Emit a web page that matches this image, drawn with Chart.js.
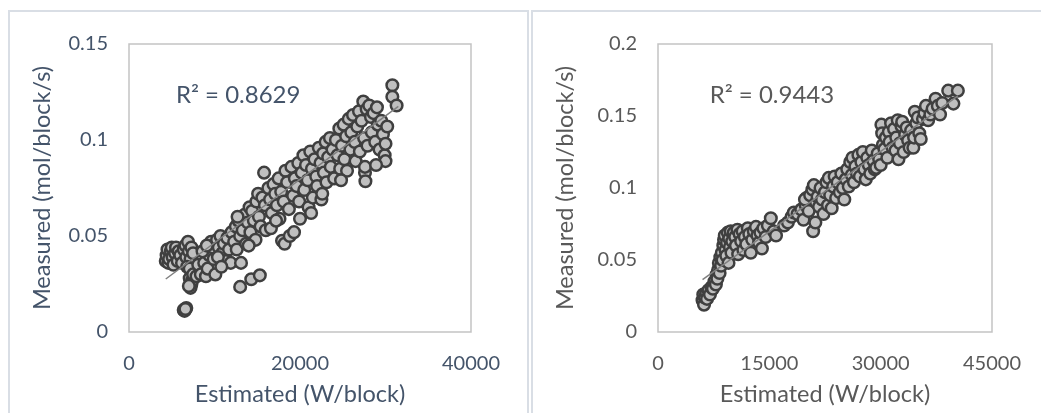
<!DOCTYPE html>
<html><head><meta charset="utf-8">
<script src="https://cdn.jsdelivr.net/npm/chart.js@4.4.1/dist/chart.umd.min.js"></script>
<style>
html,body{margin:0;padding:0;background:#fff;width:1041px;height:413px;overflow:hidden;position:relative;}
.vl{position:absolute;background:#D9DEE5;}
canvas{position:absolute;}
</style></head><body>
<div class="vl" style="left:8px;top:10px;width:1.5px;height:403px"></div>
<div class="vl" style="left:8px;top:10px;width:520px;height:1.5px"></div>
<div class="vl" style="left:527px;top:10px;width:1.5px;height:403px"></div>
<div class="vl" style="left:531px;top:10px;width:1.5px;height:403px"></div>
<div class="vl" style="left:531px;top:10px;width:510px;height:1.5px"></div>
<canvas id="c1" width="511" height="402" style="left:9px;top:11px"></canvas>
<canvas id="c2" width="509" height="402" style="left:532px;top:11px"></canvas>
<script>
// ---------- Panel 1 data ----------
const leftPoints = [
[4300,0.037],[4400,0.040],[4500,0.043],[4600,0.036],[4700,0.038],[4900,0.042],[5000,0.044],[5100,0.039],[5200,0.035],[5400,0.041],
[5500,0.044],[5700,0.037],[5800,0.042],[6000,0.040],[6200,0.036],[6400,0.043],[6600,0.045],[6700,0.039],[6900,0.047],[7000,0.042],
[7200,0.038],[7300,0.044],[7500,0.041],[6800,0.034],[7100,0.033],[7100,0.028],[7300,0.025],[7200,0.023],[7400,0.027],[7500,0.030],
[7900,0.029],[7000,0.024],[6400,0.0115],[6500,0.0110],[6700,0.0125],[6600,0.012],
[8100,0.035],[8400,0.030],[8800,0.036],[9000,0.029],[9200,0.033],[9400,0.040],[9600,0.047],[9800,0.044],[9900,0.038],[10100,0.030],
[10300,0.048],[10500,0.044],[10700,0.050],[10900,0.041],[11100,0.046],[11300,0.037],[11500,0.049],[11700,0.043],[11900,0.036],[12000,0.052],
[8600,0.042],[9100,0.045],[10400,0.039],[10800,0.034],
[12300,0.047],[12500,0.055],[12600,0.043],[12800,0.058],[13000,0.050],[13100,0.036],[13300,0.053],[13500,0.061],[13700,0.046],[13900,0.057],
[14100,0.065],[14200,0.052],[14400,0.063],[14600,0.058],[14800,0.048],[14900,0.068],[15100,0.072],[15200,0.060],[15400,0.055],[15600,0.070],
[15800,0.083],[15900,0.066],[16000,0.053],[13000,0.0235],[14300,0.0275],[15300,0.0295],[12700,0.060],[14000,0.045],
[16300,0.075],[16500,0.069],[16700,0.062],[16900,0.077],[17100,0.072],[17300,0.066],[17500,0.080],[17600,0.059],[17800,0.073],[17900,0.0475],
[18100,0.068],[18200,0.046],[18300,0.084],[18500,0.078],[18700,0.064],[18800,0.050],[19000,0.086],[19200,0.071],[19300,0.052],[19400,0.080],
[19600,0.076],[19800,0.088],[19900,0.068],[20000,0.059],[16600,0.054],[17200,0.058],
[20200,0.083],[20400,0.092],[20500,0.074],[20700,0.087],[20900,0.079],[21000,0.065],[21200,0.094],[21400,0.085],[21500,0.070],[21700,0.090],
[21900,0.081],[22000,0.076],[22200,0.096],[22400,0.088],[22500,0.069],[22700,0.093],[22800,0.083],[23000,0.099],[23100,0.078],[23300,0.091],
[23500,0.101],[23600,0.086],[23800,0.095],[24000,0.080],[21300,0.062],[22600,0.072],
[24200,0.100],[24400,0.092],[24600,0.106],[24700,0.085],[24900,0.097],[25100,0.108],[25200,0.090],[25400,0.102],[25500,0.084],[25700,0.111],
[25900,0.095],[26000,0.104],[26200,0.113],[26400,0.099],[26500,0.089],[26700,0.107],[26900,0.115],[27000,0.094],[27200,0.110],[27400,0.120],
[27500,0.101],[27600,0.083],[27650,0.0785],[27600,0.086],[27800,0.116],[27900,0.097],[24800,0.079],
[28100,0.118],[28300,0.112],[28400,0.104],[28600,0.114],[28800,0.099],[29000,0.117],[29100,0.108],[29300,0.095],[29500,0.110],[29700,0.103],
[29900,0.092],[30000,0.098],[30200,0.107],[30000,0.089],[30800,0.1285],[30800,0.1225],[31300,0.118],[28900,0.087]
];
const leftTrend = [[4300,0.0276],[31500,0.1175]];
const leftXTicks = [0,20000,40000];
const leftXTickLabels = ["0","20000","40000"];
const leftYTicks = [0,0.05,0.1,0.15];
const leftYTickLabels = ["0","0.05","0.1","0.15"];
const leftR2 = "R² = 0.8629";
const leftR2Pos = [12770,0.1234];

// ---------- Panel 2 data ----------
const rightPoints = [
[6000,0.022],[6100,0.026],[6200,0.019],[6300,0.024],[6500,0.027],[6600,0.023],[6800,0.029],[7000,0.026],[7200,0.031],[7400,0.030],
[7600,0.035],[7800,0.033],[7900,0.040],[8000,0.037],
[8100,0.043],[8200,0.048],[8300,0.041],[8400,0.052],[8500,0.046],[8600,0.055],[8700,0.050],[8800,0.060],[8900,0.064],[9000,0.067],
[9100,0.057],[9200,0.053],[9300,0.062],[9400,0.069],[9500,0.048],[9600,0.065],[9700,0.059],[9800,0.070],[9900,0.055],[10000,0.063],
[10200,0.069],[10400,0.066],[10500,0.060],[10700,0.071],[10800,0.054],[11000,0.068],[11200,0.063],[11400,0.070],[11500,0.057],[11700,0.066],
[11900,0.061],[12100,0.072],[12300,0.068],[12500,0.055],[12700,0.064],[12900,0.070],
[13200,0.073],[13400,0.067],[13600,0.062],[13800,0.069],[14000,0.058],[14200,0.072],[14500,0.066],[14800,0.074],[15200,0.079],[15600,0.070],[15900,0.067],
[17000,0.074],[17500,0.076],[18000,0.080],[18300,0.083],[18800,0.082],[19300,0.085],[19600,0.078],[19900,0.088],[20000,0.093],[19800,0.092],
[20300,0.084],[20500,0.095],[20800,0.099],[20900,0.070],[21000,0.102],[21200,0.076],[21300,0.090],[21500,0.094],[21700,0.087],[21900,0.100],
[22100,0.092],[22300,0.082],[22500,0.097],[22700,0.104],[22900,0.088],[23000,0.107],[23200,0.095],[23400,0.086],[23600,0.101],[23800,0.108],
[24000,0.093],[24200,0.104],[24500,0.097],[24700,0.110],[24900,0.100],
[25100,0.092],[25300,0.106],[25500,0.113],[25700,0.101],[25900,0.118],[26100,0.109],[26200,0.121],[26400,0.104],[26600,0.115],[26800,0.110],
[27000,0.123],[27200,0.108],[27400,0.118],[27600,0.125],[27800,0.113],[28000,0.106],[28200,0.121],[28400,0.116],[28600,0.110],[28800,0.126],
[29000,0.119],[29200,0.113],[29400,0.114],[29600,0.124],[29800,0.120],[30000,0.116],
[30100,0.144],[30200,0.138],[30300,0.130],[30500,0.127],[30700,0.135],[30900,0.121],[31100,0.139],[31200,0.132],[31400,0.145],[31600,0.128],
[31800,0.141],[32000,0.126],[32100,0.135],[32300,0.147],[32400,0.120],[32600,0.131],[32800,0.143],[32900,0.146],[33100,0.125],[33300,0.137],
[33500,0.142],[33700,0.133],[33900,0.128],[34100,0.140],[34400,0.128],[34500,0.135],[34600,0.153],[34800,0.145],
[35000,0.149],[35200,0.138],[35400,0.134],[35700,0.148],[35900,0.152],[36100,0.157],[36400,0.147],[36700,0.151],[37000,0.155],[37400,0.162],
[37700,0.157],[38000,0.151],[38300,0.159],[39100,0.1676],[39800,0.1586],[40400,0.1676]
];
const rightTrend = [[6000,0.0364],[40400,0.1640]];
const rightXTicks = [0,15000,30000,45000];
const rightXTickLabels = ["0","15000","30000","45000"];
const rightYTicks = [0,0.05,0.1,0.15,0.2];
const rightYTickLabels = ["0","0.05","0.1","0.15","0.2"];
const rightR2 = "R² = 0.9443";
const rightR2Pos = [15350,0.1646];

const FONT = "Lato, 'Open Sans', sans-serif";

const boxAndLabel = {
  id: 'boxAndLabel',
  beforeDatasetsDraw(chart, args, o) {
    const a = chart.chartArea, ctx = chart.ctx;
    ctx.save();
    ctx.strokeStyle = '#C3C3C3';
    ctx.lineWidth = 1.5;
    ctx.strokeRect(a.left, a.top, a.right - a.left, a.bottom - a.top);
    ctx.restore();
  },
  afterDraw(chart, args, o) {
    const ctx = chart.ctx;
    const px = chart.scales.x.getPixelForValue(o.pos[0]);
    const py = chart.scales.y.getPixelForValue(o.pos[1]);
    ctx.save();
    ctx.font = "24px " + FONT;
    ctx.fillStyle = o.color;
    ctx.textAlign = 'center';
    ctx.textBaseline = 'middle';
    ctx.fillText(o.text, px, py);
    ctx.restore();
  }
};

function makeChart(id, pts, trend, xT, xL, yT, yL, r2, r2pos, color, yAxisW, padRight) {
  const xMax = xT[xT.length-1], yMax = yT[yT.length-1];
  return new Chart(document.getElementById(id), {
    type: 'scatter',
    data: {
      datasets: [
        { data: trend.map(p => ({x:p[0], y:p[1]})), type:'line', showLine:true, borderColor:'#808080',
          borderWidth:1.5, pointRadius:0, order:0 },
        { data: pts.map(p => ({x:p[0], y:p[1]})), backgroundColor:'#BFBFBF', borderColor:'#3F3F3F',
          borderWidth:2.5, pointRadius:5.8, order:1 }
      ]
    },
    options: {
      responsive:false, animation:false, devicePixelRatio:1,
      layout:{ padding:{ top:27, right:padRight, left:0, bottom:0 } },
      plugins:{ legend:{display:false}, tooltip:{enabled:false},
        boxAndLabel:{ text:r2, pos:r2pos, color:color } },
      scales:{
        x:{ type:'linear', min:0, max:xMax,
          grid:{display:false, drawTicks:false}, border:{display:false},
          afterBuildTicks:s => { s.ticks = xT.map(v => ({value:v})); },
          afterFit:s => { s.height = 81; },
          ticks:{ padding:20, color:color, font:{family:FONT, size:20}, maxRotation:0, autoSkip:false,
            callback:(v) => { const i = xT.indexOf(v); return i >= 0 ? xL[i] : ''; } },
          title:{ display:true, text:'Estimated (W/block)', color:color, font:{family:FONT, size:23.5},
            padding:{top:0, bottom:4} }
        },
        y:{ type:'linear', min:0, max:yMax,
          grid:{display:false, drawTicks:false}, border:{display:false},
          afterBuildTicks:s => { s.ticks = yT.map(v => ({value:v})); },
          afterFit:s => { s.width = yAxisW; },
          ticks:{ padding:21, color:color, font:{family:FONT, size:20}, autoSkip:false,
            callback:(v) => { const i = yT.findIndex(t => Math.abs(t - v) < 1e-9); return i >= 0 ? yL[i] : ''; } },
          title:{ display:true, text:'Measured (mol/block/s)', color:color, font:{family:FONT, size:23.5},
            padding:{top:19, bottom:0} }
        }
      }
    },
    plugins:[boxAndLabel]
  });
}

makeChart('c1', leftPoints, leftTrend, leftXTicks, leftXTickLabels, leftYTicks, leftYTickLabels,
  leftR2, leftR2Pos, '#44546A', 120, 37);
makeChart('c2', rightPoints, rightTrend, rightXTicks, rightXTickLabels, rightYTicks, rightYTickLabels,
  rightR2, rightR2Pos, '#595959', 126, 34);
</script>
</body></html>
